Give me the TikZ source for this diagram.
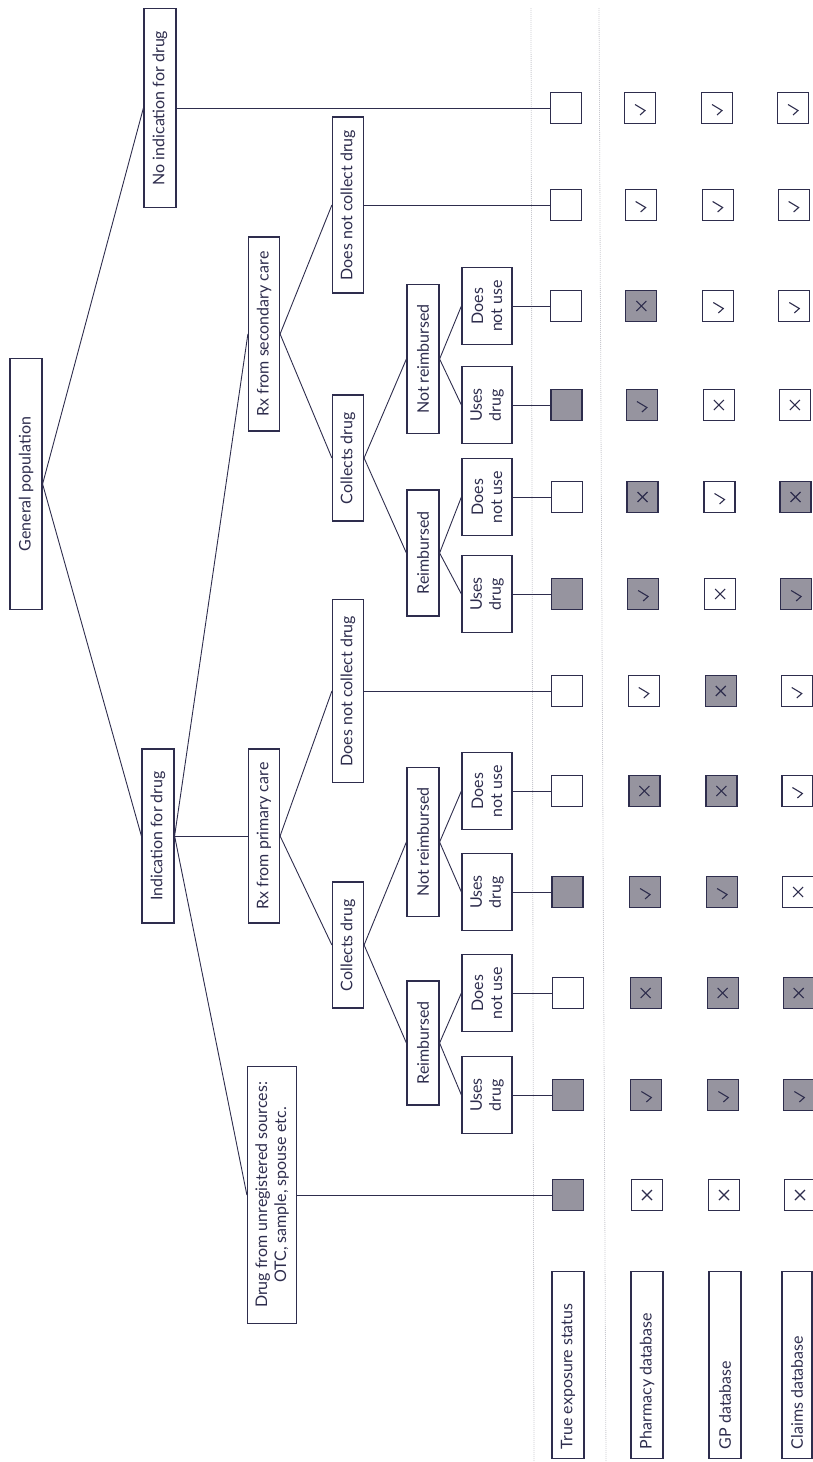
\documentclass[tikz,border=0pt]{standalone}
\usepackage{fontspec}
\setmainfont{Lato}
\usetikzlibrary{calc}
\definecolor{ln}{HTML}{2E2D4D}
\definecolor{gf}{HTML}{96949F}
\definecolor{dl}{HTML}{C9C9CF}
\newcommand\symb[2]{\ifnum#2=1 \draw[sym] ($(#1)+(-5,-3.5)$) -- ++(10,6) -- ++(-5,4.5);\else \draw[sym] ($(#1)+(-5,-5)$) -- ++(10,10) ($(#1)+(-5,5)$) -- ++(10,-10);\fi}
\newcommand\labtxt[1]{\makebox[168pt][l]{#1}}
\begin{document}
\begin{tikzpicture}[x=1pt,y=-1pt,
  box/.style={draw=ln, line width=1.2pt, rotate=90, inner sep=0pt, align=center, text=ln, font=\fontsize{16}{19}\selectfont},
  lab/.style={box, minimum width=187pt},
  sq/.style={draw=ln, line width=1.2pt, minimum size=31pt, inner sep=0pt},
  edge/.style={draw=ln, line width=0.9pt},
  sym/.style={draw=ln, line width=1.1pt},
  guide/.style={draw=dl, line width=0.8pt, dash pattern=on 1pt off 1pt}]
\useasboundingbox (0,0) rectangle (812,1462);
% guide lines
\draw[guide] (531,8) -- (534,1462);
\draw[guide] (599,8) -- (606,1462);
% tree nodes
\node[box, minimum width=251pt, minimum height=32pt] (gp) at (26,484) {General population};
\node[box, minimum width=199pt, minimum height=32pt] (noind) at (160,108) {No indication for drug};
\node[box, minimum width=174pt, minimum height=32pt] (ind) at (158,836) {Indication for drug};
\node[box, minimum width=257pt, minimum height=49pt] (unreg) at (272,1195) {Drug from unregistered sources:\\OTC, sample, spouse etc.};
\node[box, minimum width=174pt, minimum height=31pt] (rxp) at (264,836) {Rx from primary care};
\node[box, minimum width=194pt, minimum height=31pt] (rxs) at (264,334) {Rx from secondary care};
\node[box, minimum width=183pt, minimum height=31pt] (dncdp) at (348,691) {Does not collect drug};
\node[box, minimum width=176pt, minimum height=31pt] (dncds) at (348,205) {Does not collect drug};
\node[box, minimum width=126pt, minimum height=31pt] (colp) at (348,945) {Collects drug};
\node[box, minimum width=126pt, minimum height=31pt] (cols) at (348,458) {Collects drug};
\node[box, minimum width=149pt, minimum height=32pt] (nrp) at (423,842) {Not reimbursed};
\node[box, minimum width=124pt, minimum height=32pt] (rp) at (423,1043) {Reimbursed};
\node[box, minimum width=149pt, minimum height=32pt] (nrs) at (423,359) {Not reimbursed};
\node[box, minimum width=126pt, minimum height=32pt] (rs) at (423,553) {Reimbursed};
\node[box, minimum width=77pt, minimum height=50pt] (dnusnr) at (487,306) {Does\\not use};
\node[box, minimum width=77pt, minimum height=50pt] (udsnr) at (487,405) {Uses\\drug};
\node[box, minimum width=77pt, minimum height=50pt] (dnusr) at (487,497) {Does\\not use};
\node[box, minimum width=77pt, minimum height=50pt] (udsr) at (487,594) {Uses\\drug};
\node[box, minimum width=77pt, minimum height=50pt] (dnupnr) at (487,791) {Does\\not use};
\node[box, minimum width=77pt, minimum height=50pt] (udpnr) at (487,892) {Uses\\drug};
\node[box, minimum width=77pt, minimum height=50pt] (dnupr) at (487,993) {Does\\not use};
\node[box, minimum width=77pt, minimum height=50pt] (udpr) at (487,1095) {Uses\\drug};
% row labels
\node[lab, minimum height=32pt] (lt) at (568,1365) {\labtxt{True exposure status}};
\node[lab, minimum height=32pt] (lp) at (647,1365) {\labtxt{Pharmacy database}};
\node[lab, minimum height=32pt] (lg) at (725,1365) {\labtxt{GP database}};
\node[lab, minimum height=30pt] (lc) at (797,1365) {\labtxt{Claims database}};
% squares
\foreach \i/\y/\tf/\pf/\ps/\gf/\gs/\cf/\cs in {
 1/108/white/white/1/white/1/white/1,
 2/205/white/white/1/white/1/white/1,
 3/306/white/gf/2/white/1/white/1,
 4/405/gf/gf/1/white/2/white/2,
 5/497/white/gf/2/white/1/gf/2,
 6/594/gf/gf/1/white/2/gf/1,
 7/691/white/white/1/gf/2/white/1,
 8/791/white/gf/2/gf/2/white/1,
 9/892/gf/gf/1/gf/1/white/2,
 10/993/white/gf/2/gf/2/gf/2,
 11/1095/gf/gf/1/gf/1/gf/1,
 12/1195/gf/white/2/white/2/white/2}{
  \node[sq, fill=\tf] (t\i) at ({566+2*(\y-107)/1088},\y) {};
  \node[sq, fill=\pf] (p\i) at ({640+7*(\y-107)/1088},\y) {};
  \node[sq, fill=\gf] (g\i) at ({717+7*(\y-107)/1088},\y) {};
  \node[sq, fill=\cf] (c\i) at ({793+7*(\y-107)/1088},\y) {};
  \symb{p\i}{\ps}
  \symb{g\i}{\gs}
  \symb{c\i}{\cs}
}
% tree edges
\draw[edge] (gp.south) -- (ind.north);
\draw[edge] (gp.south) -- (noind.north);
\draw[edge] (ind.south) -- (unreg.north);
\draw[edge] (ind.south) -- (rxp.north);
\draw[edge] (ind.south) -- (rxs.north);
\draw[edge] (rxp.south) -- (colp.north);
\draw[edge] (rxp.south) -- (dncdp.north);
\draw[edge] (rxs.south) -- (cols.north);
\draw[edge] (rxs.south) -- (dncds.north);
\draw[edge] (colp.south) -- (nrp.north);
\draw[edge] (colp.south) -- (rp.north);
\draw[edge] (cols.south) -- (nrs.north);
\draw[edge] (cols.south) -- (rs.north);
\draw[edge] (nrp.south) -- (dnupnr.north);
\draw[edge] (nrp.south) -- (udpnr.north);
\draw[edge] (rp.south) -- (dnupr.north);
\draw[edge] (rp.south) -- (udpr.north);
\draw[edge] (nrs.south) -- (dnusnr.north);
\draw[edge] (nrs.south) -- (udsnr.north);
\draw[edge] (rs.south) -- (dnusr.north);
\draw[edge] (rs.south) -- (udsr.north);
% leaves to true status
\draw[edge] (noind.south) -- (t1.west);
\draw[edge] (dncds.south) -- (t2.west);
\draw[edge] (dnusnr.south) -- (t3.west);
\draw[edge] (udsnr.south) -- (t4.west);
\draw[edge] (dnusr.south) -- (t5.west);
\draw[edge] (udsr.south) -- (t6.west);
\draw[edge] (dncdp.south) -- (t7.west);
\draw[edge] (dnupnr.south) -- (t8.west);
\draw[edge] (udpnr.south) -- (t9.west);
\draw[edge] (dnupr.south) -- (t10.west);
\draw[edge] (udpr.south) -- (t11.west);
\draw[edge] (unreg.south) -- (t12.west);
\end{tikzpicture}
\end{document}
